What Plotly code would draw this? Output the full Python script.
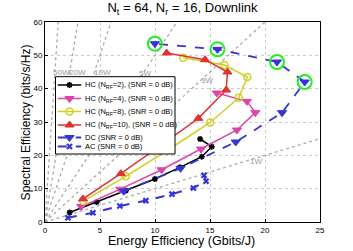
import plotly.graph_objects as go

# ---- data ----
hc2_ee = [2.24, 4.70, 7.35, 9.99, 12.27, 14.25, 15.16, 14.10]
hc2_se = [2.84, 5.97, 9.40, 12.9, 16.4, 19.6, 22.6, 24.9]

hc4_ee = [3.30, 6.84, 10.60, 14.19, 17.45, 19.12, 18.36, 15.62]
hc4_se = [4.63, 9.85, 15.67, 21.9, 27.6, 32.8, 36.2, 38.7]

hc8_ee = [3.47, 7.35, 11.18, 15.01, 17.61, 18.39, 16.31, 12.57]
hc8_se = [6.27, 13.7, 21.6, 29.85, 37.25, 43.5, 47.1, 49.25]

hc10_ee = [3.45, 6.89, 10.45, 13.94, 16.47, 16.59, 14.55, 11.06]
hc10_se = [6.93, 14.5, 22.8, 31.1, 39.6, 45.0, 48.7, 50.7]

dc_ee = [7.16, 12.32, 17.34, 21.55, 23.61, 21.09, 15.68, 9.99]
dc_se = [9.25, 16.1, 24.0, 32.8, 42.0, 48.0, 51.8, 53.5]
dc_highlight = [4, 5, 6, 7]  # indices circled in green

ac_ee = [2.08, 4.36, 6.80, 9.17, 11.54, 13.49, 14.64, 14.46]
ac_se = [1.25, 2.75, 4.78, 6.42, 8.36, 10.2, 12.2, 14.0]

power_w = [1, 3, 5, 10, 20, 50]
power_labels = ["1W", "3W", "5W", "10W", "20W", "50W"]
power_label_ee = [19.2, 14.7, 9.08, 5.2, 2.95, 1.5]
power_label_se = [18.2, 42.5, 44.7, 44.8, 44.8, 44.8]

series_names = [
    "HC (N<sub>RF</sub>=2), (SNR = 0 dB)",
    "HC (N<sub>RF</sub>=4), (SNR = 0 dB)",
    "HC (N<sub>RF</sub>=8), (SNR = 0 dB)",
    "HC (N<sub>RF</sub>=10), (SNR = 0 dB)",
    "DC (SNR = 0 dB)",
    "AC (SNR = 0 dB)",
]

x_ticks = [0, 5, 10, 15, 20, 25]
y_ticks = [0, 10, 20, 30, 40, 50, 60]
x_range = [0, 25]
y_range = [0, 60]

# ---- styles ----
BLACK = "#000000"
PINK = "#dd44aa"
YELLOW = "#d0d020"
RED = "#dd3333"
BLUE = "#3535d5"
GREEN = "#22ee22"
GRAYLINE = "#aaaaaa"

styles = [
    dict(line=dict(color=BLACK, width=1.5),
         marker=dict(symbol="asterisk-open", size=5, color=BLACK, line=dict(width=1.5, color=BLACK))),
    dict(line=dict(color=PINK, width=1.5),
         marker=dict(symbol="triangle-down", size=8, color=PINK, line=dict(width=1, color=PINK))),
    dict(line=dict(color=YELLOW, width=1.5),
         marker=dict(symbol="circle-open", size=7, color=YELLOW, line=dict(width=1.5, color=YELLOW))),
    dict(line=dict(color=RED, width=1.5),
         marker=dict(symbol="triangle-up", size=8, color=RED, line=dict(width=1, color=RED))),
    dict(line=dict(color=BLUE, width=1.8, dash="dash"),
         marker=dict(symbol="triangle-down", size=8, color=BLUE, line=dict(width=1, color=BLUE))),
    dict(line=dict(color=BLUE, width=2, dash="dash"),
         marker=dict(symbol="x-thin-open", size=5, color=BLUE, line=dict(width=2.2, color=BLUE))),
]

series = [(hc2_ee, hc2_se), (hc4_ee, hc4_se), (hc8_ee, hc8_se),
          (hc10_ee, hc10_se), (dc_ee, dc_se), (ac_ee, ac_se)]

fig = go.Figure()

# iso-power dotted lines through origin
for p in power_w:
    fig.add_trace(go.Scatter(
        x=[0, x_range[1]], y=[0, x_range[1] * p], mode="lines",
        line=dict(color=GRAYLINE, width=1.3, dash="dot"),
        showlegend=False, hoverinfo="skip"))

for txt, ex, sy in zip(power_labels, power_label_ee, power_label_se):
    fig.add_annotation(x=ex, y=sy, text=txt, showarrow=False,
                       font=dict(size=8, color="#999999"))

for (ex, sy), name, st in zip(series, series_names, styles):
    fig.add_trace(go.Scatter(x=ex, y=sy, mode="lines+markers", name=name,
                             showlegend=False, **st))

fig.add_trace(go.Scatter(
    x=[dc_ee[i] for i in dc_highlight], y=[dc_se[i] for i in dc_highlight],
    mode="markers", showlegend=False, hoverinfo="skip",
    marker=dict(symbol="circle-open", size=14, color=GREEN, line=dict(width=2, color=GREEN))))

# ---- hand-built legend on an overlay axis measured in plot-area pixels ----
PW, PH = 275, 200
box_x = [10.5, 130, 130, 10.5, 10.5]
box_y = [68, 68, 145.3, 145.3, 68]
row_y = [137, 123.5, 110.5, 97, 84.5, 75.5]
sample_x0, sample_xm, sample_x1, text_x = 12.8, 24.5, 36.2, 38

fig.add_trace(go.Scatter(x=box_x, y=box_y, xaxis="x2", yaxis="y2", mode="lines",
                         fill="toself", fillcolor="white",
                         line=dict(color="black", width=1),
                         showlegend=False, hoverinfo="skip"))
for ry, name, st in zip(row_y, series_names, styles):
    fig.add_trace(go.Scatter(x=[sample_x0, sample_x1], y=[ry, ry], xaxis="x2", yaxis="y2",
                             mode="lines", line=st["line"], showlegend=False, hoverinfo="skip"))
    fig.add_trace(go.Scatter(x=[sample_xm], y=[ry], xaxis="x2", yaxis="y2",
                             mode="markers", marker=st["marker"], showlegend=False, hoverinfo="skip"))
    fig.add_annotation(x=text_x, y=ry, xref="x2", yref="y2", text=name, showarrow=False,
                       xanchor="left", yanchor="middle", font=dict(size=7.5, color="black"))

axis_common = dict(
    showline=True, linecolor="black", linewidth=1, mirror=True,
    showgrid=True, gridcolor="#cccccc", griddash="dot", gridwidth=1,
    zeroline=False, ticks="inside", ticklen=3, tickcolor="black",
    tickfont=dict(size=8, color="black"),
)

fig.update_xaxes(range=x_range, tickvals=x_ticks, **axis_common)
fig.update_yaxes(range=y_range, tickvals=y_ticks, **axis_common)

fig.update_layout(
    width=353, height=251,
    margin=dict(l=45, r=33, t=22, b=29),
    paper_bgcolor="white", plot_bgcolor="white",
    font=dict(family="Liberation Sans, Arial, sans-serif", color="black"),
    title=dict(text="N<sub>t</sub> = 64, N<sub>r</sub> = 16, Downlink",
               x=182.5 / 353, xanchor="center", y=0.988, yanchor="top",
               font=dict(size=13, color="black")),
    xaxis2=dict(overlaying="x", range=[0, PW], visible=False, fixedrange=True),
    yaxis2=dict(overlaying="y", range=[0, PH], visible=False, fixedrange=True),
    showlegend=False,
)

# axis titles
fig.add_annotation(x=175 / 353, y=-0.052, xref="paper", yref="paper",
                   text="Energy Efficiency (Gbits/J)", showarrow=False,
                   xanchor="center", yanchor="top", font=dict(size=12.5, color="black"))
fig.add_annotation(x=-0.035, y=0.5, xref="paper", yref="paper",
                   text="Spectral Efficiency (bits/s/Hz)", showarrow=False, textangle=-90,
                   xanchor="right", yanchor="middle", font=dict(size=12, color="black"))

fig.write_html("out.html", config={"displayModeBar": False},
               post_script="document.body.style.margin='0px';document.body.style.overflow='hidden';")
